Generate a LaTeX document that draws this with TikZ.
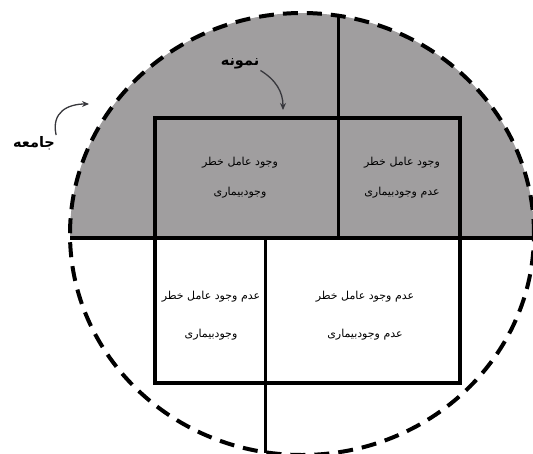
\documentclass[tikz,border=0pt]{standalone}
\usepackage{fontspec}
\usepackage{xcolor}
\usepackage{tikz}
\usetikzlibrary{arrows.meta}
\TeXXeTstate=1
\newfontfamily\farsifont[Script=Arabic]{DejaVu Sans}
\newcommand{\fa}[1]{\beginR#1\endR}
\definecolor{popgray}{RGB}{160,158,159}
\definecolor{pointgray}{RGB}{55,55,60}
\tikzset{
  cell/.style={align=center,inner sep=0pt,font=\farsifont\fontsize{11}{30}\selectfont},
  tag/.style={inner sep=1pt,font=\farsifont\bfseries\fontsize{14.5}{16}\selectfont},
  pointer/.style={-{Stealth[length=7pt,width=6pt]}, line width=1.3pt, color=pointgray},
  border/.style={line width=4pt, dash pattern=on 15pt off 9pt},
  divider/.style={line width=3pt}
}

\begin{document}
\begin{tikzpicture}[x=1pt,y=-1pt]
  \useasboundingbox (0,0) rectangle (533,453);
  % population, upper half shaded
  \begin{scope}
    \clip (302,234) ellipse [x radius=232pt, y radius=221pt];
    \fill[popgray] (60,0) rectangle (540,238);
  \end{scope}
  \draw[border] (302,234) ellipse [x radius=232pt, y radius=221pt];
  \draw[line width=4pt] (70,238) -- (533,238);
  \draw[divider] (338,16) -- (338,238);
  \draw[divider] (265,238) -- (265,453);
  % sample
  \draw[line width=4.5pt] (155,118) rectangle (460,383);
  \node[cell] (ee) at (240,178) {\fa{وجود عامل خطر}\\\fa{وجودبیماری}};
  \node[cell] (en) at (402,178) {\fa{وجود عامل خطر}\\\fa{عدم وجودبیماری}};
  \node[cell] (ne) at (211,316) {\fa{عدم وجود عامل خطر}\\[8pt]\fa{وجودبیماری}};
  \node[cell] (nn) at (365,316) {\fa{عدم وجود عامل خطر}\\[8pt]\fa{عدم وجودبیماری}};
  % labels
  \node[tag] (pop) at (34,143) {\fa{جامعه}};
  \node[tag] (smp) at (240,64) {\fa{نمونه}};
  \coordinate (popend) at (89,104);
  \coordinate (smpend) at (283,110);
  \draw[pointer] (pop.north east) .. controls (51,112) and (68,104) .. (popend);
  \draw[pointer] (smp.south east) .. controls (276,80) and (283,92) .. (smpend);
\end{tikzpicture}
\end{document}
